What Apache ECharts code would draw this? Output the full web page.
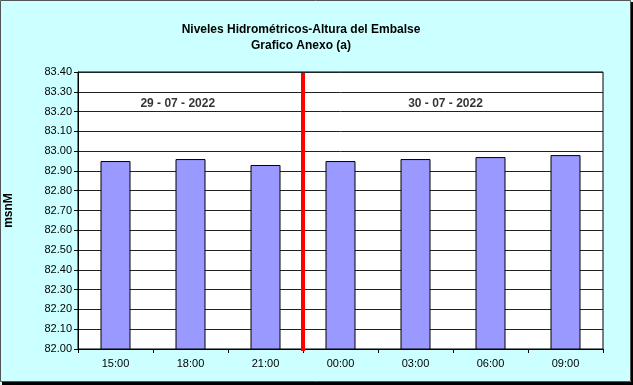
<!DOCTYPE html>
<html><head><meta charset="utf-8">
<script src="https://cdn.jsdelivr.net/npm/echarts@6/dist/echarts.min.js"></script>
<style>html,body{margin:0;padding:0;background:#fff}#c{width:633px;height:385px}</style>
</head><body><div id="c"></div>
<script>
const categories = ['15:00','18:00','21:00','00:00','03:00','06:00','09:00'];
const levels = [82.95, 82.96, 82.93, 82.95, 82.96, 82.97, 82.98];
const dayLabels = ['29 - 07 - 2022', '30 - 07 - 2022'];
const dayLabelPos = [1.33, 4.9];   // position along the category span (0..7) of the day labels
const dayLabelValue = 83.24;
const dayBreak = 3;             // boundary index between days
const yMin = 82.0, yMax = 83.4, yStep = 0.1;

const chart = echarts.init(document.getElementById('c'), null, {renderer:'canvas'});
const F = 'Liberation Sans, Arial, sans-serif';
chart.setOption({
  backgroundColor: '#CCFFFF',
  animation: false,
  title: [{
    text: 'Niveles Hidrométricos-Altura del Embalse\nGrafico Anexo (a)',
    left: 296, top: 17, textAlign: 'center',
    textStyle: {fontFamily: F, fontSize: 12, fontWeight: 'bold', color: '#000', lineHeight: 16}
  }],
  grid: {left: 78, right: 30, top: 72, bottom: 36, show: true, backgroundColor: '#fff', borderColor: '#000', borderWidth: 1,
    containLabel: false, outerBoundsMode: 'none'},
  xAxis: [{
    type: 'category', data: categories,
    axisLine: {lineStyle: {color: '#000'}},
    axisTick: {show: true, length: 4, lineStyle: {color: '#000'}},
    axisLabel: {fontFamily: F, fontSize: 11, color: '#000', margin: 9}
  }, {
    type: 'value', min: 0, max: categories.length, show: false
  }],
  yAxis: {
    type: 'value', min: yMin, max: yMax, interval: yStep,
    name: 'msnM', nameLocation: 'middle', nameGap: 63, nameRotate: 90,
    nameTextStyle: {fontFamily: F, fontSize: 12, fontWeight: 'bold', color: '#000'},
    axisLine: {show: true, lineStyle: {color: '#000'}},
    axisTick: {show: true, length: 4, inside: false, lineStyle: {color: '#000'}},
    axisLabel: {fontFamily: F, fontSize: 11, color: '#000', margin: 6, formatter: v => v.toFixed(2)},
    splitLine: {show: true, lineStyle: {color: '#222', width: 1}}
  },
  series: [{
    type: 'bar', data: levels, barWidth: 30,
    itemStyle: {color: '#9999FF', borderColor: '#000', borderWidth: 1},
    silent: true
  }, {
    type: 'line', xAxisIndex: 1,
    data: [[dayBreak, yMin - 0.015], [dayBreak, yMax - 0.005]],
    symbol: 'none', lineStyle: {color: '#FF0000', width: 4}, silent: true, z: 5
  }, {
    type: 'scatter', xAxisIndex: 1,
    data: dayLabelPos.map((p, i) => [p, dayLabelValue, dayLabels[i]]),
    symbolSize: 0,
    label: {show: true, position: 'inside', formatter: p => p.data[2],
      fontFamily: F, fontSize: 12, fontWeight: 'bold', color: '#000'},
    silent: true, z: 6
  }],
  graphic: [
    {type: 'rect', shape: {x: 0.5, y: 0.5, width: 630, height: 381}, style: {fill: 'none', stroke: '#555', lineWidth: 1}, silent: true},
    {type: 'rect', shape: {x: 631, y: 2, width: 2, height: 383}, style: {fill: '#000'}, silent: true},
    {type: 'rect', shape: {x: 2, y: 382, width: 631, height: 3}, style: {fill: '#000'}, silent: true}
  ]
});
</script></body></html>
